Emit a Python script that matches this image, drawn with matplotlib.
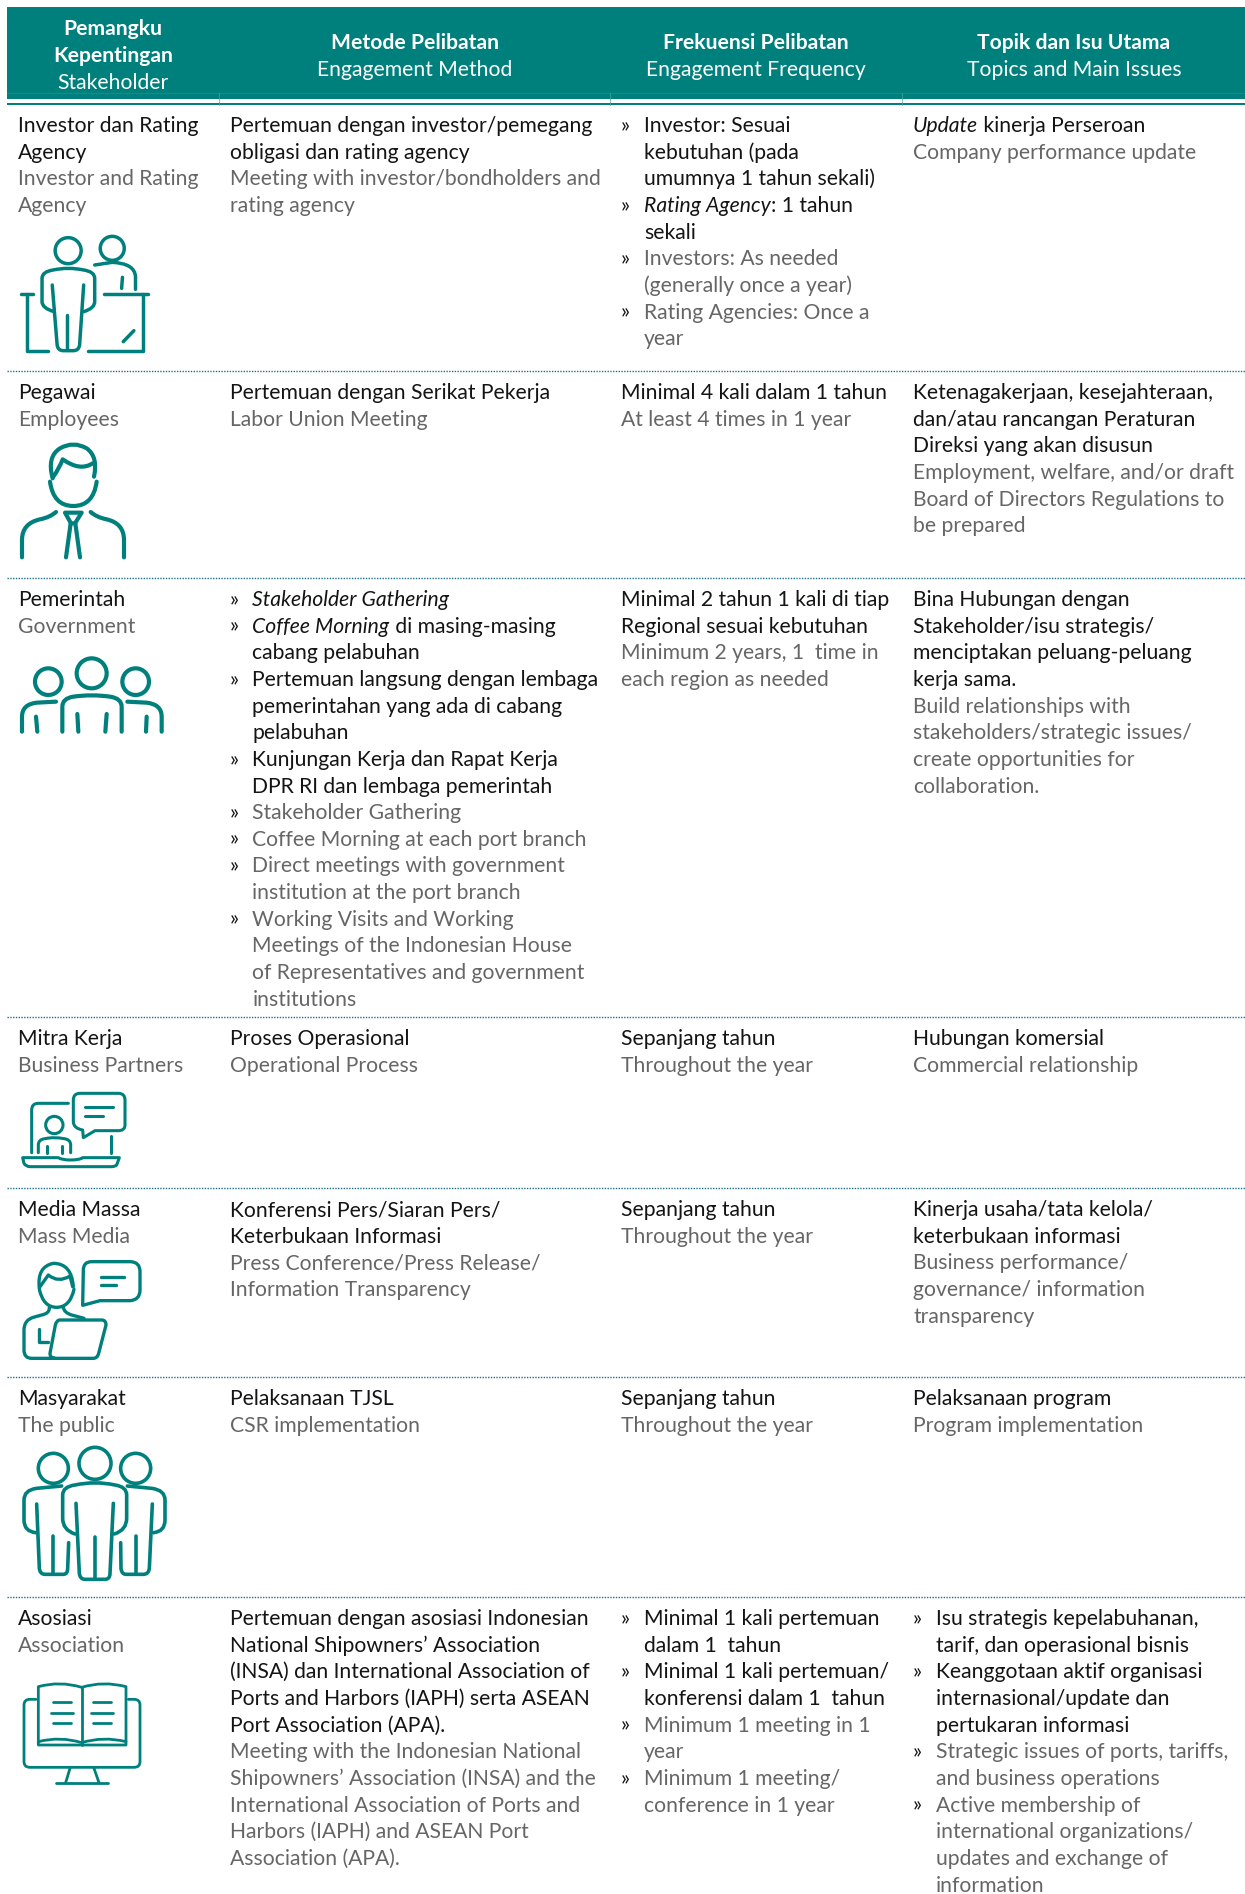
import matplotlib
matplotlib.use('Agg')
import matplotlib.pyplot as plt
from matplotlib.path import Path
from matplotlib.patches import PathPatch, Rectangle, Circle

plt.rcParams['font.family'] = ['Lato', 'DejaVu Sans']

TEAL = '#00807c'
BLACK = '#141414'
GRAY = '#666666'

# header
header_id = [['Pemangku', 'Kepentingan'], ['Metode Pelibatan'], ['Frekuensi Pelibatan'], ['Topik dan Isu Utama']]
header_en = ['Stakeholder', 'Engagement Method', 'Engagement Frequency', 'Topics and Main Issues']
header_x = [113, 415, 756, 1074]

# each row: (indonesian lines, english lines), *word* = italic, "» " = new bullet
stakeholders = [
    (['Investor dan Rating', 'Agency'], ['Investor and Rating', 'Agency']),
    (['Pegawai'], ['Employees']),
    (['Pemerintah'], ['Government']),
    (['Mitra Kerja'], ['Business Partners']),
    (['Media Massa'], ['Mass Media']),
    (['Masyarakat'], ['The public']),
    (['Asosiasi'], ['Association']),
]
methods = [
    (['Pertemuan dengan investor/pemegang', 'obligasi dan rating agency'],
     ['Meeting with investor/bondholders and', 'rating agency']),
    (['Pertemuan dengan Serikat Pekerja'], ['Labor Union Meeting']),
    (['» *Stakeholder Gathering*', '» *Coffee Morning* di masing-masing', 'cabang pelabuhan',
      '» Pertemuan langsung dengan lembaga', 'pemerintahan yang ada di cabang', 'pelabuhan',
      '» Kunjungan Kerja dan Rapat Kerja', 'DPR RI dan lembaga pemerintah'],
     ['» Stakeholder Gathering', '» Coffee Morning at each port branch',
      '» Direct meetings with government', 'institution at the port branch',
      '» Working Visits and Working', 'Meetings of the Indonesian House',
      'of Representatives and government', 'institutions']),
    (['Proses Operasional'], ['Operational Process']),
    (['Konferensi Pers/Siaran Pers/', 'Keterbukaan Informasi'],
     ['Press Conference/Press Release/', 'Information Transparency']),
    (['Pelaksanaan TJSL'], ['CSR implementation']),
    (['Pertemuan dengan asosiasi Indonesian', 'National Shipowners’ Association',
      '(INSA) dan International Association of', 'Ports and Harbors (IAPH) serta ASEAN',
      'Port Association (APA).'],
     ['Meeting with the Indonesian National', 'Shipowners’ Association (INSA) and the',
      'International Association of Ports and', 'Harbors (IAPH) and ASEAN Port', 'Association (APA).']),
]
frequency = [
    (['» Investor: Sesuai', 'kebutuhan (pada', 'umumnya 1 tahun sekali)', '» *Rating Agency*: 1 tahun', 'sekali'],
     ['» Investors: As needed', '(generally once a year)', '» Rating Agencies: Once a', 'year']),
    (['Minimal 4 kali dalam 1 tahun'], ['At least 4 times in 1 year']),
    (['Minimal 2 tahun 1 kali di tiap', 'Regional sesuai kebutuhan'],
     ['Minimum 2 years, 1  time in', 'each region as needed']),
    (['Sepanjang tahun'], ['Throughout the year']),
    (['Sepanjang tahun'], ['Throughout the year']),
    (['Sepanjang tahun'], ['Throughout the year']),
    (['» Minimal 1 kali pertemuan', 'dalam 1  tahun', '» Minimal 1 kali pertemuan/', 'konferensi dalam 1  tahun'],
     ['» Minimum 1 meeting in 1', 'year', '» Minimum 1 meeting/', 'conference in 1 year']),
]
topics = [
    (['*Update* kinerja Perseroan'], ['Company performance update']),
    (['Ketenagakerjaan, kesejahteraan,', 'dan/atau rancangan Peraturan', 'Direksi yang akan disusun'],
     ['Employment, welfare, and/or draft', 'Board of Directors Regulations to', 'be prepared']),
    (['Bina Hubungan dengan', 'Stakeholder/isu strategis/', 'menciptakan peluang-peluang', 'kerja sama.'],
     ['Build relationships with', 'stakeholders/strategic issues/', 'create opportunities for', 'collaboration.']),
    (['Hubungan komersial'], ['Commercial relationship']),
    (['Kinerja usaha/tata kelola/', 'keterbukaan informasi'],
     ['Business performance/', 'governance/ information', 'transparency']),
    (['Pelaksanaan program'], ['Program implementation']),
    (['» Isu strategis kepelabuhanan,', 'tarif, dan operasional bisnis',
      '» Keanggotaan aktif organisasi', 'internasional/update dan', 'pertukaran informasi'],
     ['» Strategic issues of ports, tariffs,', 'and business operations',
      '» Active membership of', 'international organizations/', 'updates and exchange of', 'information']),
]
columns = [stakeholders, methods, frequency, topics]
column_x = [17.8, 229.5, 621, 913]
bullet_indent = 23
column_seps = [219, 610, 902]

# horizontal rules under each row
row_top = [104, 371, 578, 1017, 1188, 1377, 1597]
row_rules = row_top[1:]
line_h = 26.65
fs = 15.2

fig = plt.figure(figsize=(12.45, 18.94), dpi=100)
ax = fig.add_axes([0, 0, 1, 1])
ax.set_xlim(0, 1245)
ax.set_ylim(1894, 0)
ax.axis('off')
renderer = fig.canvas.get_renderer()


def draw_line(x, y, s, color):
    # plain and italic runs one after the other
    for i, part in enumerate(s.split('*')):
        if not part:
            continue
        t = ax.text(x, y, part, color=color, fontsize=fs, va='baseline', ha='left',
                    style='italic' if i % 2 else 'normal')
        x += t.get_window_extent(renderer).width


def draw_cell(x, y, id_lines, en_lines):
    bulleted = any(l.startswith('» ') for l in id_lines)
    for lines, color in ((id_lines, BLACK), (en_lines, GRAY)):
        for l in lines:
            if l.startswith('» '):
                ax.text(x, y, '»', color=BLACK, fontsize=fs, va='baseline')
                draw_line(x + bullet_indent, y, l[2:], color)
            else:
                draw_line(x + bullet_indent if bulleted else x, y, l, color)
            y += line_h


def stroke(d, ox, oy, sx=3.0, sy=3.0, lw=2.5):
    # small svg-like path: M L Q Z, coordinates in zoomed crop pixels
    verts, codes = [], []
    tok = d.split()
    i = 0
    while i < len(tok):
        c = tok[i]
        i += 1
        if c == 'Z':
            verts.append((0, 0))
            codes.append(Path.CLOSEPOLY)
            continue
        n = 2 if c == 'Q' else 1
        for k in range(n):
            verts.append((ox + float(tok[i]) / sx, oy + float(tok[i + 1]) / sy))
            i += 2
            codes.append({'M': Path.MOVETO, 'L': Path.LINETO, 'Q': Path.CURVE3}[c])
    ax.add_patch(PathPatch(Path(verts, codes), fc='none', ec=TEAL, lw=lw,
                           capstyle='round', joinstyle='round'))


def ring(cx, cy, r, ox, oy, lw=2.5):
    ax.add_patch(Circle((ox + cx / 3.0, oy + cy / 3.0), r / 3.0, fc='none', ec=TEAL, lw=lw))


# header band
ax.add_patch(Rectangle((7, 7), 1238, 92, fc=TEAL, ec='none'))
ax.plot([7, 1245], [93, 93], color='#1a8d89', lw=0.6)
ax.add_patch(Rectangle((7, 102.5), 1238, 2.2, fc=TEAL, ec='none'))
for x in column_seps:
    ax.plot([x, x], [93, 105], color='#4aa5a2', lw=0.5)
for cx, hid, hen in zip(header_x, header_id, header_en):
    if len(hid) == 2:
        ys = [35, 62, 89]
    else:
        ys = [49, 75.5]
    for l, y in zip(hid, ys):
        ax.text(cx, y, l, color='white', fontsize=fs, fontweight='bold', ha='center', va='baseline')
    ax.text(cx, ys[-1], hen, color='white', fontsize=fs, ha='center', va='baseline')

# table body
for col, x in zip(columns, column_x):
    for row, top in zip(col, row_top):
        draw_cell(x, top + 28, row[0], row[1])

# dotted rules
for y in row_rules:
    ax.plot([7, 1245], [y, y], color='#1f6f8b', lw=1.0, ls=(0, (1, 1)))

# icon 1: investor at desk
o = (0, 0, 2.45, 3.0)
ring(167 * 3 / 2.45, 752, 39, 0, 0)
ring(275 * 3 / 2.45, 745, 36, 0, 0)
for d in ['M 128 855 L 140 1035 Q 142 1052 155 1052 L 180 1052 Q 193 1052 195 1035 L 205 855',
          'M 133 935 Q 103 925 103 905 L 103 835 Q 103 815 130 810 Q 167 800 205 810 Q 232 815 232 835 L 232 905 Q 232 925 205 935',
          'M 165 945 L 165 1050',
          'M 232 795 L 275 787 Q 330 790 332 830 L 332 868', 'M 300 832 L 298 865',
          'M 80 883 L 52 883', 'M 65 883 L 65 1052 L 118 1052',
          'M 255 883 L 363 883', 'M 350 883 L 350 1052 L 215 1052', 'M 302 1025 L 328 992']:
    stroke(d, *o)

# icon 2: employee
for d in ['M 150 185 Q 160 258 220 258 Q 280 258 290 185',
          'M 158 175 Q 140 110 180 85 Q 220 62 260 85 Q 295 110 282 170',
          'M 160 170 Q 178 145 188 118 Q 240 155 278 130',
          'M 168 276 Q 150 292 120 298 Q 66 310 66 360 L 66 412',
          'M 272 276 Q 290 292 320 298 Q 372 310 372 360 L 372 412',
          'M 195 278 L 245 278 L 225 310 L 213 310 Z',
          'M 212 310 L 198 412', 'M 226 310 L 240 412']:
    stroke(d, 0, 420, lw=3.0)

# icon 3: government
for c in [(145, 785, 40), (275, 760, 45), (407, 785, 40)]:
    ring(*c, 0, 420, lw=3.0)
for d in ['M 168 845 L 110 848 Q 66 853 66 890 L 66 935', 'M 108 890 L 112 935',
          'M 187 935 L 187 860 Q 187 835 220 830 Q 275 822 330 830 Q 365 835 365 860 L 365 935',
          'M 232 882 L 235 935', 'M 320 882 L 316 935',
          'M 382 845 L 440 848 Q 485 853 485 890 L 485 935', 'M 440 890 L 438 935']:
    stroke(d, 0, 420, lw=3.0)

# icon 4: business partners
ring(163, 165, 26, 0, 1070, lw=2.2)
for d in ['M 95 248 L 95 120 Q 95 100 115 100 L 205 100', 'M 332 197 L 332 248',
          'M 240 70 L 355 70 Q 375 70 375 90 L 375 165 Q 375 182 355 182 L 285 182 L 250 203 L 248 180 Q 220 175 220 155 L 220 90 Q 220 70 240 70 Z',
          'M 255 112 L 338 112', 'M 255 138 L 308 138',
          'M 115 248 L 115 225 Q 115 208 135 206 Q 163 200 192 206 Q 212 208 212 225 L 212 248',
          'M 140 228 L 140 248', 'M 187 228 L 187 248',
          'M 68 263 L 175 263 Q 185 270 210 270 Q 240 270 248 263 L 358 263 L 350 285 Q 345 290 335 290 L 90 290 Q 78 290 72 280 Z']:
    stroke(d, 0, 1070, lw=2.2)

# icon 5: mass media
for d in ['M 118 655 Q 110 590 160 580 Q 215 580 220 650',
          'M 118 658 Q 130 712 170 712 Q 210 712 222 658',
          'M 120 650 L 145 615 Q 175 640 210 618 L 218 650',
          'M 148 712 Q 150 730 125 735 L 100 742 Q 72 750 72 780 L 72 840 Q 72 865 95 865 L 280 865 Q 292 865 296 850 L 318 765 Q 318 750 305 750 L 180 750 Q 170 750 166 765 L 150 850 Q 150 865 165 865',
          'M 190 712 Q 192 728 215 735 L 252 745', 'M 118 778 L 118 815 L 145 815',
          'M 275 575 L 390 575 Q 420 575 420 605 L 420 660 Q 420 690 390 692 L 300 692 L 248 706 L 250 600 Q 250 575 275 575 Z',
          'M 302 622 L 372 622', 'M 302 645 L 348 645']:
    stroke(d, 0, 1070, lw=2.4)

# icon 6: the public
for c in [(160, 85, 45), (285, 70, 48), (407, 85, 45)]:
    ring(*c, 0, 1440, lw=2.6)
for d in ['M 185 138 L 110 145 Q 72 150 72 180 L 72 240 Q 72 275 108 278',
          'M 110 192 L 118 385 Q 120 403 135 403 L 190 403 Q 203 403 203 385 L 206 308', 'M 160 287 L 160 400',
          'M 228 190 L 238 400 Q 240 418 255 418 L 315 418 Q 330 418 330 400 L 340 190', 'M 284 292 L 284 415',
          'M 225 282 Q 188 270 188 235 L 188 165 Q 188 140 225 135 Q 285 122 345 135 Q 380 140 380 165 L 380 235 Q 380 270 343 282',
          'M 382 138 L 455 145 Q 495 150 495 180 L 495 240 Q 495 275 460 278',
          'M 457 192 L 448 385 Q 446 403 430 403 L 378 403 Q 365 403 363 385 L 362 308', 'M 407 287 L 407 400']:
    stroke(d, 0, 1440, lw=2.6)

# icon 7: association
for d in ['M 115 740 Q 180 722 245 742 Q 310 722 378 740 L 378 915 L 115 915 Z', 'M 245 742 L 245 915',
          'M 115 905 Q 180 888 245 908 Q 310 888 378 905',
          'M 160 785 L 213 785', 'M 153 818 L 220 818', 'M 160 850 L 213 850',
          'M 280 785 L 333 785', 'M 272 818 L 340 818', 'M 280 850 L 333 850',
          'M 108 778 L 90 778 Q 72 778 72 795 L 72 965 Q 72 982 90 982 L 402 982 Q 420 982 420 965 L 420 795 Q 420 778 402 778 L 385 778',
          'M 210 985 L 197 1028', 'M 282 985 L 297 1028', 'M 167 1028 L 325 1028']:
    stroke(d, 0, 1440, lw=2.0)

fig.savefig('out.png', dpi=100)
